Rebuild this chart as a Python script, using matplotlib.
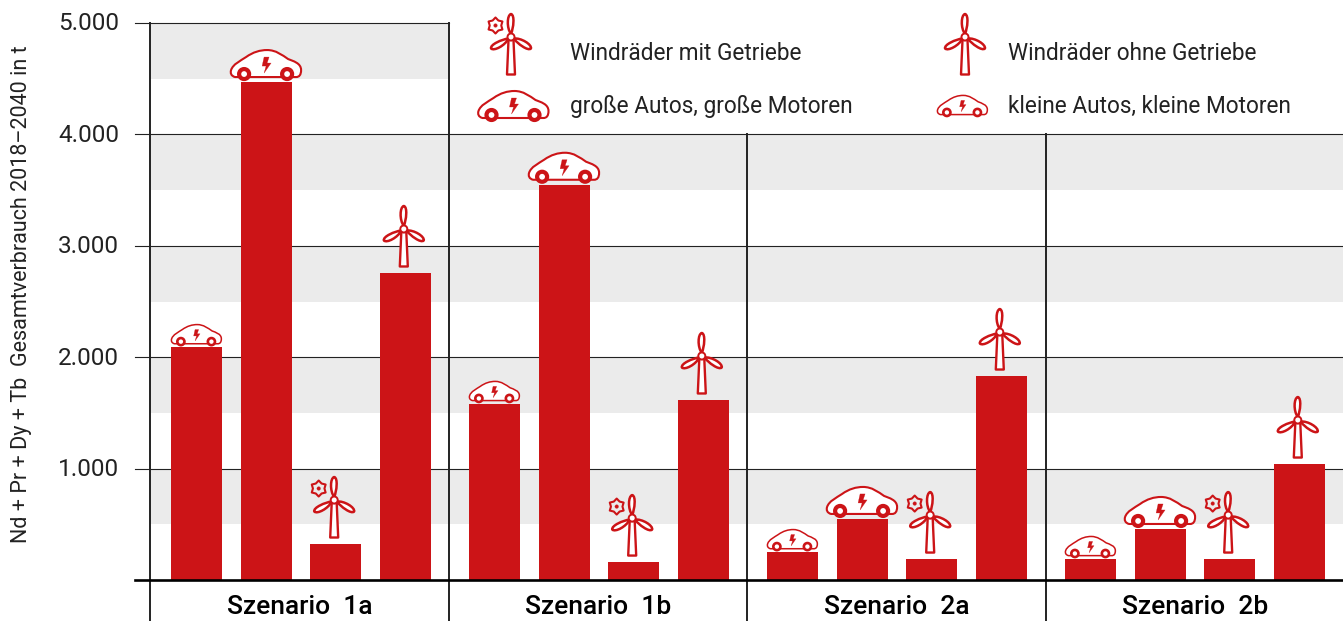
import numpy as np
import matplotlib
matplotlib.use("Agg")
import matplotlib.pyplot as plt
from matplotlib.path import Path
from matplotlib.patches import PathPatch
from matplotlib.transforms import Affine2D

plt.rcParams['font.family'] = ['Roboto', 'DejaVu Sans']

# data
scenarios = ["Szenario  1a", "Szenario  1b", "Szenario  2a", "Szenario  2b"]
klein_autos = [2090, 1580, 250, 188]
gross_autos = [4470, 3548, 548, 458]
mit_getriebe = [323, 161, 188, 188]
ohne_getriebe = [2756, 1616, 1831, 1041]
series = [klein_autos, gross_autos, mit_getriebe, ohne_getriebe]
icons = ["small_car", "big_car", "gear_turbine", "turbine"]
yticks = [1000, 2000, 3000, 4000, 5000]
ytick_labels = ["1.000", "2.000", "3.000", "4.000", "5.000"]
bands = [500, 1500, 2500, 3500, 4500]

RED = "#CC1417"
GREY = "#EBEBEB"
DARK = "#222222"

W, H = 1343, 621
fig = plt.figure(figsize=(W / 100, H / 100), dpi=100)
ax = fig.add_axes([135 / W, (H - 580) / H, (W - 135) / W, 557 / H])
# one x unit is one scenario, 0 is the first divider
group_px = 298.67
ax.set_xlim(-15 / group_px, (W - 150) / group_px)
ax.set_ylim(0, 5000)
ax.axis("off")
xmin, xmax = ax.get_xlim()
below = -41 / 557 * 5000

# grey bands and lines
for low in bands:
    right = 1 if low == 4500 else xmax
    ax.fill_between([0, right], low, low + 500, color=GREY, lw=0, zorder=0)
for t in yticks:
    right = 1 if t == 5000 else xmax
    ax.plot([xmin, right], [t, t], color=DARK, lw=0.8, zorder=1, clip_on=False)
for i in range(4):
    top = 5000 if i < 2 else 4000
    ax.plot([i, i], [below, top], color=DARK, lw=1.4, zorder=1, clip_on=False)
ax.plot([xmin, xmax], [0, 0], color="black", lw=1.9, zorder=4, clip_on=False)

# bars
bar_w = 51 / group_px
bar_step = 69.6 / group_px
bar_start = 46.5 / group_px
bar_group = 298.0 / group_px
for j, vals in enumerate(series):
    xs = np.arange(4) * bar_group + bar_start + j * bar_step
    ax.bar(xs, vals, width=bar_w, color=RED, lw=0, zorder=3)

# icons, drawn in pixels
M, C, L, Z = Path.MOVETO, Path.CURVE4, Path.LINETO, Path.CLOSEPOLY
car_path = Path(
    [(-31, 2), (-35, 3), (-36, 6), (-35, 9), (-33, 15), (-26, 18), (-20, 22),
     (-13, 27), (-6, 29), (1, 29), (10, 29), (16, 24), (22, 20), (27, 18), (35, 16), (35, 9),
     (35, 4), (33, 2), (30, 2), (-31, 2), (-31, 2)],
    [M, C, C, C, C, C, C, C, C, C, C, C, C, C, C, C, C, C, C, L, Z])
bolt_path = Path([(3, 22), (-2, 22), (-4, 13), (0, 13), (-2, 6), (5, 16), (1, 16), (3, 22)],
                 [M, L, L, L, L, L, L, Z])
blade_path = Path([(0, 3), (-4.5, 9), (-4, 22), (0, 23), (4, 22), (2.5, 9), (0, 3), (0, 3)],
                  [M, C, C, C, C, C, C, Z])
tower_path = Path([(-2.5, -3), (-4, -37.5), (4, -37.5), (2.5, -3), (-2.5, -3)], [M, L, L, L, Z])
gear_path = Path.unit_regular_star(6, 0.72)


def pixel_tf(x, y, s=1.0):
    return Affine2D().scale(s).translate(x, y)


def add_patch(path, tf, fc, ec, lw):
    ax.add_patch(PathPatch(path, facecolor=fc, edgecolor=ec, lw=lw, transform=tf,
                           zorder=5, clip_on=False, joinstyle="round"))


def draw_car(x, y, s):
    add_patch(car_path, pixel_tf(x, y, s), "white", RED, 1.5 if s > 0.8 else 1.1)
    add_patch(bolt_path, pixel_tf(x, y, s), RED, RED, 0.2)
    for wx in (-22, 21):
        wheel = Path.circle((wx, 5), 5)
        add_patch(wheel, pixel_tf(x, y, s), "white", RED, 3.0 if s > 0.8 else 1.9)


def draw_turbine(x, y, gear=False):
    add_patch(tower_path, pixel_tf(x, y), "white", RED, 1.7)
    for angle in (0, 120, 240):
        add_patch(blade_path, Affine2D().rotate_deg(angle).translate(x, y), "white", RED, 1.8)
    add_patch(Path.circle((0, 0), 3.5), pixel_tf(x, y), "white", RED, 1.4)
    if gear:
        add_patch(gear_path, pixel_tf(x - 15.5, y + 11.5, 8), "none", RED, 1.5)
        add_patch(Path.circle((0, 0), 1.8), pixel_tf(x - 15.5, y + 11.5), RED, RED, 0.2)


def draw_icon(kind, x, y):
    if kind == "big_car":
        draw_car(x, y + 3, 1.0)
    elif kind == "small_car":
        draw_car(x, y + 2, 0.71)
    else:
        draw_turbine(x - 1.5, y + 44, kind == "gear_turbine")


fig.canvas.draw()
for j, vals in enumerate(series):
    for g, v in enumerate(vals):
        px, py = ax.transData.transform((g * bar_group + bar_start + j * bar_step, v))
        draw_icon(icons[j], px, py)

# legend icons
draw_turbine(511, H - 37, gear=True)
draw_turbine(965, H - 37)
draw_car(513.5, H - 120, 1.0)
draw_car(962.5, H - 116, 0.71)

legend_size = 16.3
fig.text(570 / W, 1 - 54 / H, "Windräder mit Getriebe", fontsize=legend_size, color=DARK, va="center")
fig.text(1008 / W, 1 - 54 / H, "Windräder ohne Getriebe", fontsize=legend_size, color=DARK, va="center")
fig.text(570 / W, 1 - 106 / H, "große Autos, große Motoren", fontsize=legend_size, color=DARK, va="center")
fig.text(1008 / W, 1 - 106 / H, "kleine Autos, kleine Motoren", fontsize=legend_size, color=DARK, va="center")

# axis texts
for t, lab in zip(yticks, ytick_labels):
    px, py = ax.transData.transform((0, t))
    fig.text(119 / W, (py - 1) / H, lab, fontsize=17.5, color=DARK, ha="right", va="center")
fig.text(22 / W, 1 - 294 / H, "Nd + Pr + Dy + Tb  Gesamtverbrauch 2018–2040 in t", fontsize=15.5,
         color=DARK, rotation=90, ha="center", va="center")
for i, name in enumerate(scenarios):
    ax.text(i + 0.5, below * 0.66, name, fontsize=19, color="black", fontweight="medium",
            ha="center", va="center", clip_on=False)

fig.savefig("out.png", dpi=100)
